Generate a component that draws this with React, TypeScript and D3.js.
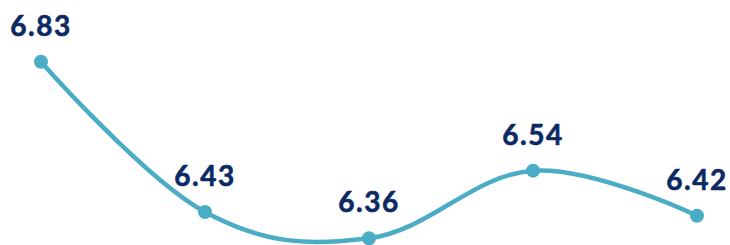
import React from "react";
import * as d3 from "d3";

const categories = ["1", "2", "3", "4", "5"];
const values = [6.83, 6.43, 6.36, 6.54, 6.42];
const labels = ["6.83", "6.43", "6.36", "6.54", "6.42"];

const W = 730;
const H = 245;

export default function App() {
  const x = d3.scalePoint<string>().domain(categories).range([41, 697]);
  const y = d3.scaleLinear().domain([6.36, 6.83]).range([238.3, 61.7]);
  const data = categories.map((c, i) => ({ c, v: values[i], l: labels[i] }));
  const line = d3
    .line<{ c: string; v: number }>()
    .x((d) => x(d.c)!)
    .y((d) => y(d.v))
    .curve(d3.curveCardinal.tension(-0.1));
  return (
    <svg
      width={W}
      height={H}
      style={{ position: "absolute", left: 0, top: 0, background: "#fff" }}
    >
      <path d={line(data) || ""} fill="none" stroke="#4BACC6" strokeWidth={4.5} />
      {data.map((d) => (
        <circle key={d.c} cx={x(d.c)} cy={y(d.v)} r={7} fill="#4BACC6" />
      ))}
      {data.map((d) => (
        <text
          key={"t" + d.c}
          x={x(d.c)}
          y={y(d.v) - 26}
          textAnchor="middle"
          fill="#0B2A63"
          stroke="#0B2A63"
          strokeWidth={0.6}
          fontFamily="Lato, sans-serif"
          fontWeight={700}
          fontSize={28}
          letterSpacing={1.5}
        >
          {d.l}
        </text>
      ))}
    </svg>
  );
}
